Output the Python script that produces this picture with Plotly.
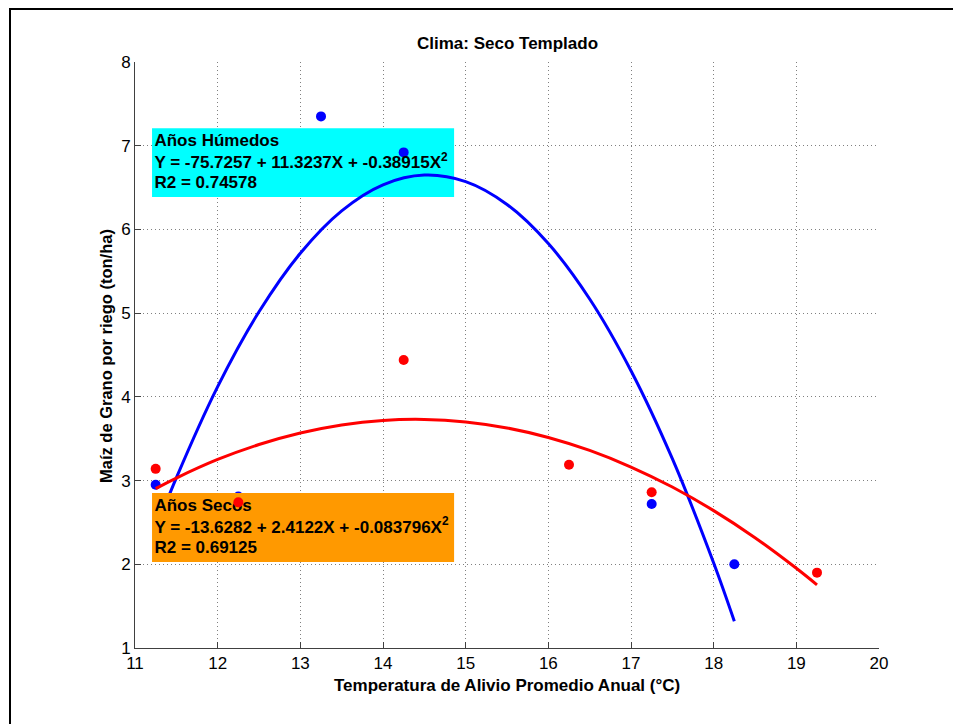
import plotly.graph_objects as go

# ---------------- data ----------------
hum_x = [11.25, 12.25, 13.25, 14.25, 17.25, 18.25]
hum_y = [2.95, 2.81, 7.35, 6.92, 2.72, 2.00]
sec_x = [11.25, 12.25, 14.25, 16.25, 17.25, 19.25]
sec_y = [3.14, 2.74, 4.44, 3.19, 2.86, 1.90]

# fitted curves
hum_fit_x = [11.25, 11.5, 12.0, 12.5, 13.0, 13.5, 14.0, 14.5, 15.0, 15.5, 16.0, 16.5, 17.0, 17.5, 18.0, 18.25]
hum_fit_y = [2.415, 3.032, 4.122, 5.016, 5.716, 6.222, 6.533, 6.649, 6.571, 6.298, 5.831, 5.169, 4.312, 3.261, 2.016, 1.320]
sec_fit_x = [11.25, 11.5, 12.0, 12.5, 13.0, 13.5, 14.0, 14.5, 15.0, 15.5, 16.0, 16.5, 17.0, 17.5, 18.0, 18.5, 19.0, 19.25]
sec_fit_y = [2.904, 3.030, 3.252, 3.431, 3.569, 3.665, 3.719, 3.731, 3.701, 3.629, 3.515, 3.360, 3.162, 2.923, 2.641, 2.318, 1.953, 1.755]

hum_text = ["<b>Años Húmedos</b>",
            "<b>Y = -75.7257 + 11.3237X + -0.38915X<sup>2</sup></b>",
            "<b>R2 = 0.74578</b>"]
sec_text = ["<b>Años Secos</b>",
            "<b>Y = -13.6282 + 2.4122X + -0.083796X<sup>2</sup></b>",
            "<b>R2 = 0.69125</b>"]

x_ticks = [11, 12, 13, 14, 15, 16, 17, 18, 19, 20]
y_ticks = [1, 2, 3, 4, 5, 6, 7, 8]

# ---------------- style / layout constants ----------------
FONT = "Liberation Sans, Arial, sans-serif"
BLUE = "#0000ff"
RED = "#ff0000"
CYAN = "#00ffff"
ORANGE = "#ff9900"
GRID = "#808080"

box_x0, box_x1 = 11.206, 14.86
cyan_y0, cyan_y1 = 6.387, 7.21
orng_y0, orng_y1 = 2.027, 2.851
text_x = 11.235
cyan_text_y = [7.05, 6.78, 6.543]
orng_text_y = [2.69, 2.43, 2.182]

# page offset: the browser adds an 8px body margin
OFF = 8
W, H = 961 - OFF, 724 - OFF
L, T = 135 - OFF, 62 - OFF
R = W - (879 - OFF)
B = H - (648 - OFF)
PW, PH = W - L - R, H - T - B


def px(xs):
    """screen x pixel -> paper coordinate"""
    return (xs - OFF - L) / PW


def py(ys):
    """screen y pixel -> paper coordinate"""
    return (H - B - (ys - OFF)) / PH


fig = go.Figure()

# blue (humid) fit + points
fig.add_trace(go.Scatter(x=hum_fit_x, y=hum_fit_y, mode="lines",
                         line=dict(color=BLUE, width=3, shape="spline"), hoverinfo="skip"))
fig.add_trace(go.Scatter(x=hum_x, y=hum_y, mode="markers",
                         marker=dict(color=BLUE, size=10), hoverinfo="skip"))
# cyan text
fig.add_trace(go.Scatter(x=[text_x] * 3, y=cyan_text_y, mode="text", text=hum_text,
                         textposition="middle right",
                         textfont=dict(family=FONT, size=17, color="black"),
                         hoverinfo="skip"))
# orange box (covers blue items, under red ones)
fig.add_trace(go.Scatter(x=[box_x0, box_x1, box_x1, box_x0, box_x0],
                         y=[orng_y0, orng_y0, orng_y1, orng_y1, orng_y0],
                         mode="lines", fill="toself", fillcolor=ORANGE,
                         line=dict(width=0, color=ORANGE), hoverinfo="skip"))
fig.add_trace(go.Scatter(x=[text_x] * 3, y=orng_text_y, mode="text", text=sec_text,
                         textposition="middle right",
                         textfont=dict(family=FONT, size=17, color="black"),
                         hoverinfo="skip"))
# red (dry) fit + points
fig.add_trace(go.Scatter(x=sec_fit_x, y=sec_fit_y, mode="lines",
                         line=dict(color=RED, width=3, shape="spline"), hoverinfo="skip"))
fig.add_trace(go.Scatter(x=sec_x, y=sec_y, mode="markers",
                         marker=dict(color=RED, size=10), hoverinfo="skip"))

shapes = [
    dict(type="rect", xref="x", yref="y", x0=box_x0, x1=box_x1, y0=cyan_y0, y1=cyan_y1,
         fillcolor=CYAN, line=dict(width=0), layer="between"),
    # outer figure frame (left and top)
    dict(type="line", xref="paper", yref="paper", x0=px(10), x1=px(10), y0=py(8.5), y1=py(740),
         line=dict(color="black", width=2)),
    dict(type="line", xref="paper", yref="paper", x0=px(9), x1=px(980), y0=py(9), y1=py(9),
         line=dict(color="black", width=2)),
]

annotations = [
    dict(text="<b>Clima: Seco Templado</b>", xref="paper", yref="paper",
         x=0.5, y=py(44), xanchor="center", yanchor="middle", showarrow=False,
         font=dict(family=FONT, size=17, color="black")),
    dict(text="<b>Temperatura de Alivio Promedio Anual (°C)</b>", xref="paper", yref="paper",
         x=0.5, y=py(685), xanchor="center", yanchor="middle", showarrow=False,
         font=dict(family=FONT, size=17, color="black")),
    dict(text="<b>Maíz de Grano por riego (ton/ha)</b>", xref="paper", yref="paper",
         x=px(106), y=py(356), xanchor="center", yanchor="middle", showarrow=False,
         textangle=-90, font=dict(family=FONT, size=16.5, color="black")),
]

fig.update_layout(
    width=W, height=H,
    margin=dict(l=L, r=R, t=T, b=B),
    paper_bgcolor="white", plot_bgcolor="white",
    showlegend=False,
    shapes=shapes, annotations=annotations,
    font=dict(family=FONT, size=17, color="black"),
)
axis_style = dict(showgrid=True, gridcolor=GRID, griddash="1px,3px", gridwidth=1,
                  showline=True, linecolor="#404040", linewidth=1,
                  ticks="inside", ticklen=6, tickcolor="#404040",
                  zeroline=False, mirror=False, tickfont=dict(size=17))
fig.update_xaxes(range=[11, 20], tickvals=x_ticks, ticktext=[str(v) for v in x_ticks], **axis_style)
fig.update_yaxes(range=[1, 8], tickvals=y_ticks, ticktext=[str(v) for v in y_ticks], **axis_style)

fig.write_html("out.html")
